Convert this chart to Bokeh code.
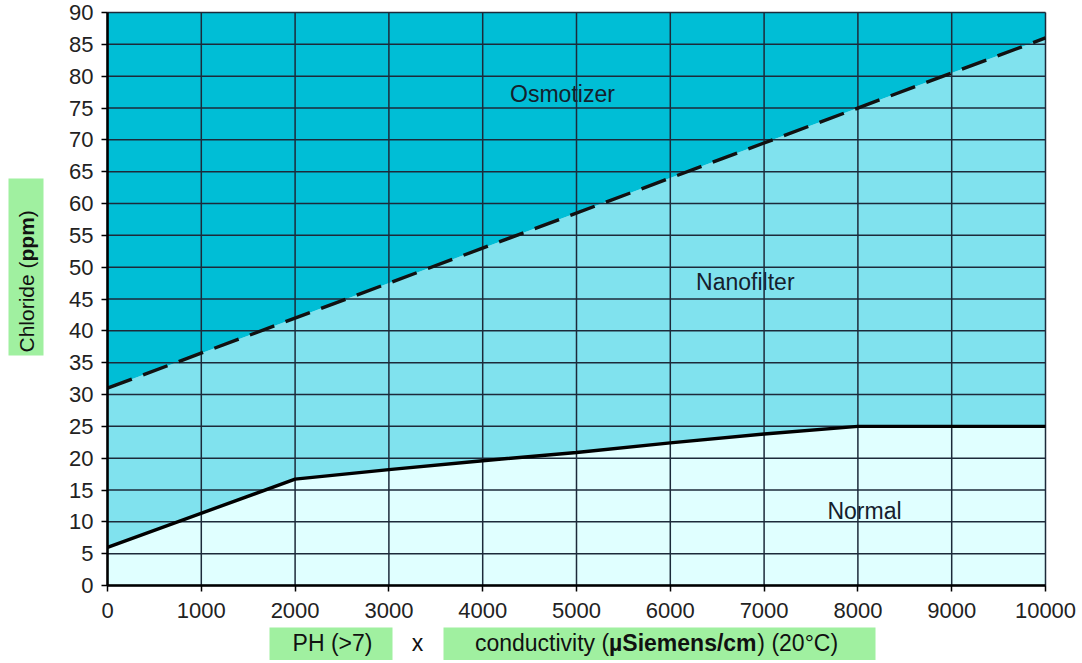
import math
from bokeh.plotting import figure
from bokeh.models import FixedTicker, Range1d
from bokeh.core.properties import value
from bokeh.embed import file_html
from bokeh.resources import INLINE

# ---- data ----
x_ticks = [0, 1000, 2000, 3000, 4000, 5000, 6000, 7000, 8000, 9000, 10000]
y_ticks = [0, 5, 10, 15, 20, 25, 30, 35, 40, 45, 50, 55, 60, 65, 70, 75, 80, 85, 90]
normal_x = [0, 2000, 3000, 4000, 5000, 6000, 7000, 8000, 10000]
normal_y = [6, 16.7, 18.2, 19.6, 20.9, 22.4, 23.8, 25, 25]
osmo_x = [0, 10000]
osmo_y = [31, 86]
region_names = ["Osmotizer", "Nanofilter", "Normal"]
region_x = [4850, 6800, 8070]
region_y = [77.2, 47.6, 11.7]
y_title = [("Chloride (", False), ("ppm", True), (")", False)]
x_title_a = "PH (>7)"
x_title_sep = "x"
x_title_b = [("conductivity (", False), ("µSiemens/cm", True), (") (20°C)", False)]
x_min, x_max, y_min, y_max = 0, 10000, 0, 90

FONT = "Liberation Sans"
GRID = "#1c2a3a"
GREEN = "#A0F0A0"
TXT = "#111111"

# ---- layout (canvas pixels) ----
W, H = 1076, 660
FL, FR, FT, FB = 107, 1045, 12, 585      # chart area edges in canvas px
ppx = (FR - FL) / (x_max - x_min)
ppy = (FB - FT) / (y_max - y_min)


def X(px):
    return x_min + (px - FL) / ppx


def Y(py):
    return y_min + (FB - py) / ppy


# Liberation Sans (Arial metrics) advance widths, per 1000 em
REG = {"C": 722, "h": 556, "l": 222, "o": 556, "r": 333, "i": 222, "d": 556, "e": 556,
       " ": 278, "(": 333, ")": 333, "c": 500, "n": 556, "u": 556, "t": 278, "v": 500,
       "y": 500, "2": 556, "0": 556, "°": 400, "P": 667, "H": 722, ">": 584, "7": 556, "x": 500}
BOLD = {"p": 611, "m": 889, "µ": 611, "S": 667, "i": 278, "e": 556, "n": 611, "s": 556,
        "/": 278, "c": 556}


def tw(s, size, bold=False):
    t = BOLD if bold else REG
    return sum(t.get(ch, 556) for ch in s) * size / 1000.0


p = figure(width=W, height=H,
           x_range=Range1d(X(0), X(W)), y_range=Range1d(Y(H), Y(0)),
           output_backend="svg", toolbar_location=None, min_border=0)
p.border_fill_color = "white"
p.background_fill_color = "white"
p.outline_line_color = None
p.grid.visible = False

# ---- regions ----
normal_poly_x = [x_min] + normal_x + [x_max]
normal_poly_y = [y_min] + normal_y + [y_min]
nano_poly_x = normal_x + osmo_x[::-1]
nano_poly_y = normal_y + osmo_y[::-1]
osmo_poly_x = osmo_x + [x_max, x_min]
osmo_poly_y = osmo_y + [y_max, y_max]

p.patch(normal_poly_x, normal_poly_y, fill_color="#E0FFFF", line_color=None)
p.patch(nano_poly_x, nano_poly_y, fill_color="#80E2EE", line_color=None)
p.patch(osmo_poly_x, osmo_poly_y, fill_color="#00BED6", line_color=None)

p.text(x=region_x, y=region_y, text=region_names, text_font=value(FONT), text_font_size="23px",
       text_align="center", text_baseline="middle", text_color="#15202c")

# ---- grid (on top of fills and labels) ----
p.segment(x0=x_ticks, y0=[y_min] * len(x_ticks), x1=x_ticks, y1=[y_max] * len(x_ticks),
          line_color=GRID, line_width=1.5)
p.segment(x0=[x_min] * len(y_ticks), y0=y_ticks, x1=[x_max] * len(y_ticks), y1=y_ticks,
          line_color=GRID, line_width=1.5)

# ---- boundary lines ----
p.line(normal_x, normal_y, line_width=3.4, color="black")
p.line(osmo_x, osmo_y, line_width=3.4, color="#111111", line_dash="26 12")

# ---- axes at the chart edges ----
p.xaxis.ticker = FixedTicker(ticks=x_ticks)
p.yaxis.ticker = FixedTicker(ticks=y_ticks)
p.xaxis.fixed_location = y_min
p.yaxis.fixed_location = x_min
p.xaxis.bounds = (x_min, x_max)
p.yaxis.bounds = (y_min, y_max)
for ax in (p.xaxis[0], p.yaxis[0]):
    ax.axis_line_color = "black"
    ax.axis_line_width = 2.5
    ax.major_tick_line_color = "black"
    ax.major_tick_line_width = 1.5
    ax.major_tick_in = 0
    ax.major_tick_out = 6
    ax.minor_tick_line_color = None
    ax.major_label_text_font = FONT
    ax.major_label_text_font_size = "22px"
    ax.major_label_text_color = "#222222"
p.yaxis.major_label_standoff = 8
p.xaxis.major_label_standoff = 11

# ---- y axis title: green box + mixed-weight rotated text ----
p.quad(left=[X(8)], right=[X(43)], bottom=[Y(355)], top=[Y(178)],
       fill_color=GREEN, line_color=None)
ys = 21
pos = 352
for s, b in y_title:
    p.text(x=[X(25.5)], y=[Y(pos)], text=[s], angle=math.pi / 2,
           text_font=value(FONT), text_font_size=f"{ys}px",
           text_font_style="bold" if b else "normal",
           text_align="left", text_baseline="middle", text_color=TXT)
    pos -= tw(s, ys, b)

# ---- x axis title ----
xs = 23
ty = 642
p.quad(left=[X(269), X(443)], right=[X(392), X(875)], bottom=[Y(H), Y(H)], top=[Y(627), Y(627)],
       fill_color=GREEN, line_color=None)
p.text(x=[X(332), X(417)], y=[Y(ty), Y(ty)], text=[x_title_a, x_title_sep],
       text_font=value(FONT), text_font_size=f"{xs}px", text_align="center",
       text_baseline="middle", text_color=TXT)
total = sum(tw(s, xs, b) for s, b in x_title_b)
pos = (443 + 875) / 2 - total / 2 - 3
for s, b in x_title_b:
    p.text(x=[X(pos)], y=[Y(ty)], text=[s],
           text_font=value(FONT), text_font_size=f"{xs}px",
           text_font_style="bold" if b else "normal",
           text_align="left", text_baseline="middle", text_color=TXT)
    pos += tw(s, xs, b)

open("out.html", "w").write(file_html(p, INLINE))
